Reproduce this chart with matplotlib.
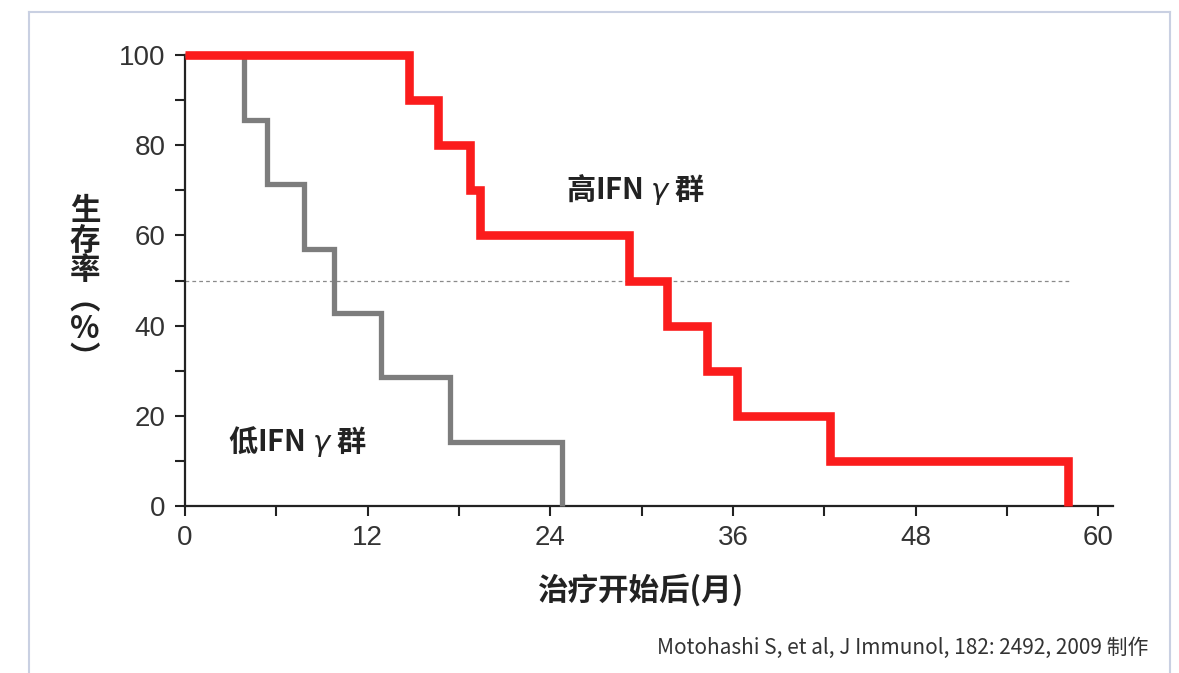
import matplotlib
matplotlib.use('Agg')
import matplotlib.pyplot as plt
from matplotlib.lines import Line2D

plt.rcParams['font.family'] = ['Liberation Sans', 'DejaVu Sans']
plt.rcParams['mathtext.fontset'] = 'dejavusans'

# survival data (months, %)
high_times = [0, 14.7, 16.6, 18.7, 19.4, 29.2, 31.7, 34.3, 36.3, 42.4, 58.0]
high_surv = [100, 90, 80, 70, 60, 50, 40, 30, 20, 10, 0]
low_times = [0, 3.9, 5.4, 7.8, 9.8, 12.9, 17.4, 24.8]
low_surv = [100, 85.7, 71.4, 57.1, 42.9, 28.6, 14.3, 0]

x_ticks = [0, 12, 24, 36, 48, 60]
y_ticks = [0, 20, 40, 60, 80, 100]

cjk = ['Noto Sans CJK SC', 'DejaVu Sans']
red = '#fb1c1c'
grey = '#7d7d7d'

fig = plt.figure(figsize=(11.79, 6.73), dpi=100)
ax = fig.add_axes([0.1569, 0.2481, 0.7875, 0.6701])

# light frame around the figure
frame_col = '#c9d0e2'
fig.add_artist(Line2D([29/1179, 29/1179], [0, 1 - 12/673], color=frame_col, lw=1.5))
fig.add_artist(Line2D([29/1179, 1170/1179], [1 - 12/673, 1 - 12/673], color=frame_col, lw=1.5))
fig.add_artist(Line2D([1170/1179, 1170/1179], [0, 1 - 12/673], color=frame_col, lw=1.5))

ax.axhline(50, xmin=0, xmax=58.2/61, color='#8a8a8a', lw=0.9, ls=(0, (3, 2.5)), zorder=1)

ax.step(low_times, low_surv, where='post', color=grey, lw=3.8,
        solid_joinstyle='miter', solid_capstyle='butt', clip_on=False, zorder=3)
ax.step(high_times, high_surv, where='post', color=red, lw=6.2,
        solid_joinstyle='miter', solid_capstyle='butt', clip_on=False, zorder=4)

ax.set_xlim(0, 61)
ax.set_ylim(0, 100)
ax.set_xticks(x_ticks)
ax.set_yticks(y_ticks)
ax.set_xticks([6, 18, 30, 42, 54], minor=True)
ax.set_yticks([10, 30, 50, 70, 90], minor=True)
ax.tick_params(which='both', direction='out', length=7, width=1.5, color='#222222')
ax.tick_params(which='major', labelsize=20, labelcolor='#333333', pad=7)

for s in ['top', 'right']:
    ax.spines[s].set_visible(False)
for s in ['left', 'bottom']:
    ax.spines[s].set_linewidth(1.6)
    ax.spines[s].set_color('#222222')

ax.text(25.0, 70.1, '高IFN $\\gamma$ 群', family=cjk, fontsize=21, fontweight='bold',
        color='#222222', va='center', ha='left')
ax.text(2.8, 14.2, '低IFN $\\gamma$ 群', family=cjk, fontsize=21, fontweight='bold',
        color='#222222', va='center', ha='left')

fig.text(641/1179, 1 - 590/673, '治疗开始后(月)', family=cjk, fontsize=22,
         fontweight='bold', color='#222222', ha='center', va='center')
fig.text(85/1179, 1 - 285/673, '生\n存\n率\n︵\n%\n︶', family=cjk, fontsize=22,
         fontweight='bold', color='#222222', ha='center', va='center', linespacing=0.9)

fig.text(1148/1179, 1 - 648/673, 'Motohashi S, et al, J Immunol, 182: 2492, 2009 制作',
         family=cjk, fontsize=15, color='#333333', ha='right', va='center')

fig.savefig('out.png', dpi=100)
